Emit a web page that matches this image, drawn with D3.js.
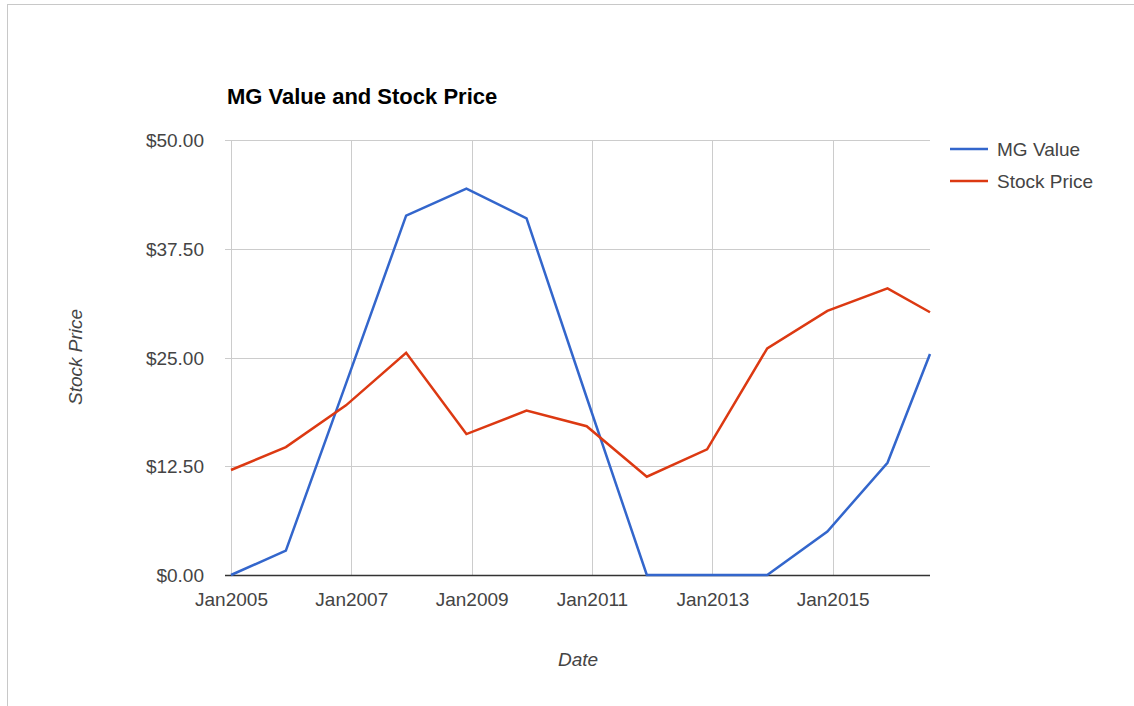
<!DOCTYPE html>
<html>
<head>
<meta charset="utf-8">
<script src="https://cdn.jsdelivr.net/npm/d3@7"></script>
<style>
  html, body { margin: 0; padding: 0; background: #fff; }
  svg { display: block; font-family: "Liberation Sans", Arial, sans-serif; }
</style>
</head>
<body>
<svg id="chart" width="1134" height="706"></svg>
<script>
// ---- data ----
const dates = ["2005-01-01","2005-11-30","2006-11-30","2007-11-30","2008-11-30","2009-11-30","2010-11-30","2011-11-30","2012-11-30","2013-11-30","2014-11-30","2015-11-30","2016-08-14"];
const mgValue = [0, 2.8, 22.0, 41.3, 44.4, 41.0, 20.4, 0, 0, 0, 5.0, 12.9, 25.4];
const stockPrice = [12.07, 14.7, 19.5, 25.55, 16.2, 18.9, 17.1, 11.3, 14.45, 26.05, 30.35, 32.95, 30.2];
const seriesNames = ["MG Value", "Stock Price"];
const seriesColors = ["#3366cc", "#dc3912"];
const yTicks = [0, 12.5, 25, 37.5, 50];
const xTickYears = [2005, 2007, 2009, 2011, 2013, 2015];
const chartTitle = "MG Value and Stock Price";
const xTitle = "Date";
const yTitle = "Stock Price";

// ---- layout ----
const svg = d3.select("#chart");
const plotLeft = 231, plotRight = 930, plotTop = 140, plotBottom = 575;
const parse = d3.timeParse("%Y-%m-%d");
const pDates = dates.map(parse);

const x = d3.scaleTime().domain([pDates[0], pDates[pDates.length - 1]]).range([plotLeft, plotRight]);
const y = d3.scaleLinear().domain([0, 50]).range([plotBottom, plotTop]);

// border
svg.append("line").attr("x1", 7).attr("x2", 1134).attr("y1", 4.5).attr("y2", 4.5)
  .attr("stroke", "#c8c8c8").attr("stroke-width", 1);
svg.append("line").attr("x1", 7.5).attr("x2", 7.5).attr("y1", 4).attr("y2", 706)
  .attr("stroke", "#c8c8c8").attr("stroke-width", 1);

// horizontal gridlines + y labels
const yAxis = d3.axisLeft(y).tickValues(yTicks).tickSize(0).tickPadding(0)
  .tickFormat(d => "$" + d.toFixed(2));
const gy = svg.append("g").attr("transform", `translate(204,0)`).call(yAxis);
gy.select(".domain").remove();
gy.selectAll("text").attr("font-size", 19).attr("fill", "#444").attr("dy", "0.35em")
  .attr("font-family", "Liberation Sans, Arial, sans-serif");

svg.append("g").selectAll("line").data(yTicks.filter(d => d > 0)).join("line")
  .attr("x1", plotLeft - 6).attr("x2", plotRight)
  .attr("y1", d => Math.round(y(d)) + 0.5).attr("y2", d => Math.round(y(d)) + 0.5)
  .attr("stroke", "#cccccc").attr("stroke-width", 1);

// vertical gridlines + x labels
const xTickDates = xTickYears.map(yr => new Date(yr, 0, 1));
svg.append("g").selectAll("line").data(xTickDates).join("line")
  .attr("x1", d => Math.round(x(d)) + 0.5).attr("x2", d => Math.round(x(d)) + 0.5)
  .attr("y1", plotTop).attr("y2", plotBottom)
  .attr("stroke", "#cccccc").attr("stroke-width", 1);

const xAxis = d3.axisBottom(x).tickValues(xTickDates).tickSize(0).tickPadding(0)
  .tickFormat(d3.timeFormat("Jan%Y"));
const gx = svg.append("g").attr("transform", `translate(0,${plotBottom})`).call(xAxis);
gx.select(".domain").remove();
gx.selectAll("text").attr("font-size", 19).attr("fill", "#444").attr("dy", 0).attr("y", 31)
  .attr("font-family", "Liberation Sans, Arial, sans-serif");

// baseline
svg.append("line").attr("x1", plotLeft - 6).attr("x2", plotRight)
  .attr("y1", plotBottom + 0.5).attr("y2", plotBottom + 0.5)
  .attr("stroke", "#333333").attr("stroke-width", 1.3);

// lines
const series = [mgValue, stockPrice];
const lineGen = d3.line().x((d, i) => x(pDates[i])).y(d => y(d));
series.forEach((vals, k) => {
  svg.append("path").datum(vals)
    .attr("d", lineGen)
    .attr("fill", "none")
    .attr("stroke", seriesColors[k])
    .attr("stroke-width", 2.5)
    .attr("stroke-linejoin", "miter");
});

// title
svg.append("text").attr("x", 227).attr("y", 104).text(chartTitle)
  .attr("font-size", 22).attr("font-weight", "bold").attr("fill", "#000");

// axis titles
svg.append("text").attr("x", 578).attr("y", 666).attr("text-anchor", "middle")
  .attr("font-size", 19).attr("font-style", "italic").attr("fill", "#444").text(xTitle);
svg.append("text").attr("transform", "translate(82,357) rotate(-90)")
  .attr("text-anchor", "middle")
  .attr("font-size", 19).attr("font-style", "italic").attr("fill", "#444").text(yTitle);

// legend
const leg = svg.append("g");
seriesNames.forEach((name, k) => {
  const ly = 149 + k * 32;
  leg.append("line").attr("x1", 950).attr("x2", 988).attr("y1", ly).attr("y2", ly)
    .attr("stroke", seriesColors[k]).attr("stroke-width", 2.5);
  leg.append("text").attr("x", 997).attr("y", ly).attr("dy", "0.35em")
    .attr("font-size", 19).attr("fill", "#444").text(name);
});
</script>
</body>
</html>
